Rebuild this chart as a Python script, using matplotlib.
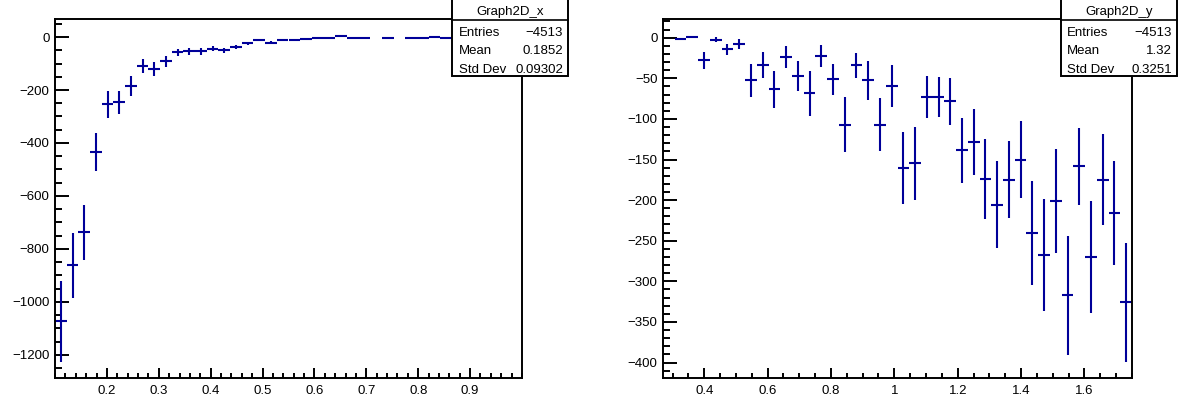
import matplotlib.pyplot as plt
import numpy as np
from matplotlib.patches import Rectangle
from matplotlib.lines import Line2D
from matplotlib.ticker import MultipleLocator, FormatStrFormatter

plt.rcParams['font.family'] = ['Liberation Sans', 'DejaVu Sans']

# binning of the two histograms
hx_range = (0.1, 1.0)
hy_range = (0.27, 1.75)
n_bins = 40

# Graph2D_x : bin contents and errors (None = empty bin)
hx_vals = [-1072, -861, -737, -435, -254, -247, -186, -109, -122, -92,
           -58, -54, -54, -44, -50, -38, -23, -12, -21, -10,
           -12, -9, -3, -2, 3, -3, -4, None, -4, None,
           -4, -3, 0.5, -5, -3, -2, -1, -2, -1, -1]
hx_errs = [153, 123, 104, 72, 50, 45, 37, 26, 26, 20,
           13, 12, 12, 10, 10, 9, 6, 4, 5, 3,
           3, 3, 2, 2, 1, 2, 2, 0, 2, 0,
           1, 1, 1, 2, 1, 1, 1, 1, 1, 1]

# Graph2D_y
hy_vals = [None, -2, 0.5, -28, -2.5, -14.4, -7.4, -52.2, -33.8, -63.7,
           -23.9, -47.3, -68.7, -22.7, -51.4, -106.9, -34.2, -52.2, -106.9, -59.7,
           -160.3, -154.6, -72.8, -73.2, -78.2, -138.6, -128.7, -173.5, -205.5, -174.7,
           -150, -240.4, -267.2, -201.5, -317.4, -158.3, -270, -174.7, -215.8, -326]
hy_errs = [0, 1, 1, 10.7, 3, 7.2, 6, 20.3, 15.8, 22.6,
           13.1, 18.5, 27.3, 13.4, 18.9, 34.1, 15.4, 24, 32.9, 25.7,
           44.4, 45, 26, 25, 28.8, 40.3, 40.5, 49.3, 53.4, 46.9,
           47.7, 64.1, 69, 64.1, 73.8, 47.3, 69.4, 56.3, 63.7, 73.4]

stats_x = ('Graph2D_x', ['Entries', 'Mean', 'Std Dev'], ['\u22124513', '0.1852', '0.09302'])
stats_y = ('Graph2D_y', ['Entries', 'Mean', 'Std Dev'], ['\u22124513', '1.32', '0.3251'])

col = '#000099'
W, H = 1184, 399
fig = plt.figure(figsize=(W / 100, H / 100), dpi=100)


def draw_hist(ax, rng, vals, errs):
    edges = np.linspace(rng[0], rng[1], n_bins + 1)
    centers = 0.5 * (edges[:-1] + edges[1:])
    half = 0.5 * (edges[1] - edges[0])
    xs = [c for c, v in zip(centers, vals) if v is not None]
    ys = [v for v in vals if v is not None]
    es = [e for e, v in zip(errs, vals) if v is not None]
    ax.errorbar(xs, ys, xerr=half, yerr=es, fmt='none', ecolor=col,
                elinewidth=1.5, capsize=0)
    ax.set_xlim(rng)


def style(ax, xmaj, xmin, ymaj, ymin):
    ax.xaxis.set_major_locator(MultipleLocator(xmaj))
    ax.xaxis.set_minor_locator(MultipleLocator(xmin))
    ax.xaxis.set_major_formatter(FormatStrFormatter('%g'))
    ax.yaxis.set_major_locator(MultipleLocator(ymaj))
    ax.yaxis.set_minor_locator(MultipleLocator(ymin))
    ax.tick_params(direction='in', top=False, right=False, width=1.4,
                   labelsize=9.5, which='both')
    ax.tick_params(axis='y', which='major', length=10, pad=4)
    ax.tick_params(axis='y', which='minor', length=5)
    ax.tick_params(axis='x', which='major', length=7, pad=5)
    ax.tick_params(axis='x', which='minor', length=3.6)
    for s in ax.spines.values():
        s.set_linewidth(1.4)


def stat_box(x0, x1, y_bot, y_sep, txt_l, txt_r, stats):
    # pixel coords measured from top-left
    title, names, values = stats
    fx = lambda px: px / W
    fy = lambda py: (H - py) / H
    fig.patches.append(Rectangle((fx(x0), fy(y_bot)), fx(x1) - fx(x0), fy(-5) - fy(y_bot),
                                 transform=fig.transFigure, facecolor='white',
                                 edgecolor='black', lw=1.4, zorder=10))
    fig.lines.append(Line2D([fx(x0), fx(x1)], [fy(y_sep), fy(y_sep)],
                            transform=fig.transFigure, color='black', lw=1.2, zorder=11))
    fig.text(fx((x0 + x1) / 2), fy(15.5), title, ha='center', va='baseline',
             fontsize=9.5, zorder=12)
    for i, (n, v) in enumerate(zip(names, values)):
        yb = 36 + i * 18.5
        fig.text(fx(txt_l), fy(yb), n, ha='left', va='baseline', fontsize=9.5, zorder=12)
        fig.text(fx(txt_r), fy(yb), v, ha='right', va='baseline', fontsize=9.5, zorder=12)


ax1 = fig.add_axes([55 / W, (H - 378) / H, (522 - 55) / W, (378 - 19) / H])
draw_hist(ax1, hx_range, hx_vals, hx_errs)
ax1.set_ylim(-1287, 68)
style(ax1, 0.1, 0.02, 200, 50)
ax1.set_xticks([0.2, 0.3, 0.4, 0.5, 0.6, 0.7, 0.8, 0.9])

ax2 = fig.add_axes([663 / W, (H - 378) / H, (1132 - 663) / W, (378 - 19) / H])
draw_hist(ax2, hy_range, hy_vals, hy_errs)
ax2.set_ylim(-419, 23)
style(ax2, 0.2, 0.05, 50, 10)

stat_box(452, 568, 76, 20, 459, 563, stats_x)
stat_box(1061, 1177, 76, 20, 1067, 1172, stats_y)

fig.savefig('out.png', dpi=100)
